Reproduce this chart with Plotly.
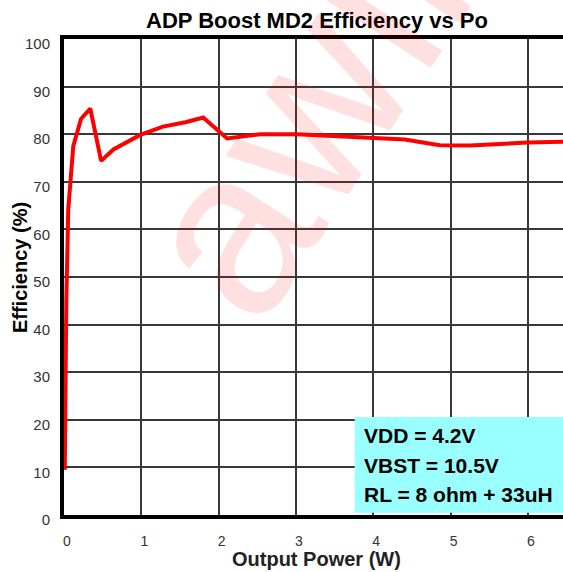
import plotly.graph_objects as go

# Efficiency curve
po_w = [0.01, 0.03, 0.055, 0.12, 0.22, 0.34, 0.48, 0.64, 0.98, 1.28, 1.57, 1.80,
        2.11, 2.54, 3.01, 3.53, 4.00, 4.41, 4.86, 5.25, 6.00, 6.46]
eff_pct = [9.5, 45.0, 64.2, 77.5, 83.2, 85.4, 74.4, 76.8, 79.8, 81.6, 82.5, 83.5,
           79.1, 80.0, 80.0, 79.6, 79.2, 78.9, 77.7, 77.6, 78.25, 78.4]

x_ticks = [0, 1, 2, 3, 4, 5, 6]
y_ticks = [0, 10, 20, 30, 40, 50, 60, 70, 80, 90, 100]
conditions = ["VDD = 4.2V", "VBST = 10.5V", "RL = 8 ohm + 33uH"]
condition_y = [16.6, 10.5, 4.4]

FONT = "Liberation Sans, Arial, sans-serif"

fig = go.Figure()
fig.add_trace(go.Scatter(
    x=po_w, y=eff_pct, mode="lines",
    line=dict(color="#ff0000", width=4),
    showlegend=False, hoverinfo="skip"
))

# watermark
fig.add_annotation(
    text="awinic", xref="paper", yref="paper", x=0.609, y=1.0525,
    xanchor="center", yanchor="middle", showarrow=False, textangle=-57,
    font=dict(family=FONT, size=235, color="rgba(255,0,0,0.12)")
)

# conditions box
fig.add_shape(type="rect", xref="x", yref="y", x0=3.76, x1=6.6, y0=0.45, y1=20.6,
              fillcolor="#99ffff", line=dict(width=0), layer="above")
for txt, yy in zip(conditions, condition_y):
    fig.add_annotation(
        text=f"<b>{txt}</b>", xref="x", yref="y", x=3.86, y=yy,
        xanchor="left", yanchor="middle", align="left", showarrow=False,
        font=dict(family=FONT, size=21, color="black"),
    )

# axis titles
fig.add_annotation(text="<b>Output Power (W)</b>", xref="paper", yref="paper",
                   x=0.507, y=-0.0924, xanchor="center", yanchor="middle", showarrow=False,
                   font=dict(family=FONT, size=20, color="#222222"))
fig.add_annotation(text="<b>Efficiency (%)</b>", xref="paper", yref="paper",
                   x=-0.088, y=0.519, xanchor="center", yanchor="middle", showarrow=False,
                   textangle=-90, font=dict(family=FONT, size=20, color="black"))

fig.update_layout(
    width=563, height=572,
    margin=dict(l=64, r=0, t=39, b=57),
    paper_bgcolor="white", plot_bgcolor="white",
    title=dict(text="<b>ADP Boost MD2 Efficiency vs Po</b>", x=0.563, xanchor="center",
               y=0.965, yanchor="middle", font=dict(family=FONT, size=22, color="black")),
    font=dict(family=FONT),
)

fig.update_xaxes(
    range=[0, 6.455], tickvals=x_ticks, showgrid=True, gridcolor="#383838", gridwidth=2,
    showline=True, linecolor="black", linewidth=4, mirror=True, automargin=False,
    ticks="", ticklabelstandoff=10, ticklabelshift=3,
    tickfont=dict(family=FONT, size=14, color="#333333"),
    zeroline=False,
)
fig.update_yaxes(
    range=[0, 100], tickvals=y_ticks, showgrid=True, gridcolor="#383838", gridwidth=2,
    showline=True, linecolor="black", linewidth=4, mirror=True, automargin=False,
    ticks="", ticklabelstandoff=7, ticklabelshift=5,
    tickfont=dict(family=FONT, size=15, color="#333333"),
    zeroline=False,
)

# page margin would shift the figure, so drop it
fig.write_html("out.html", config={"displayModeBar": False},
               post_script="document.body.style.margin='0';document.body.style.overflow='hidden';")
